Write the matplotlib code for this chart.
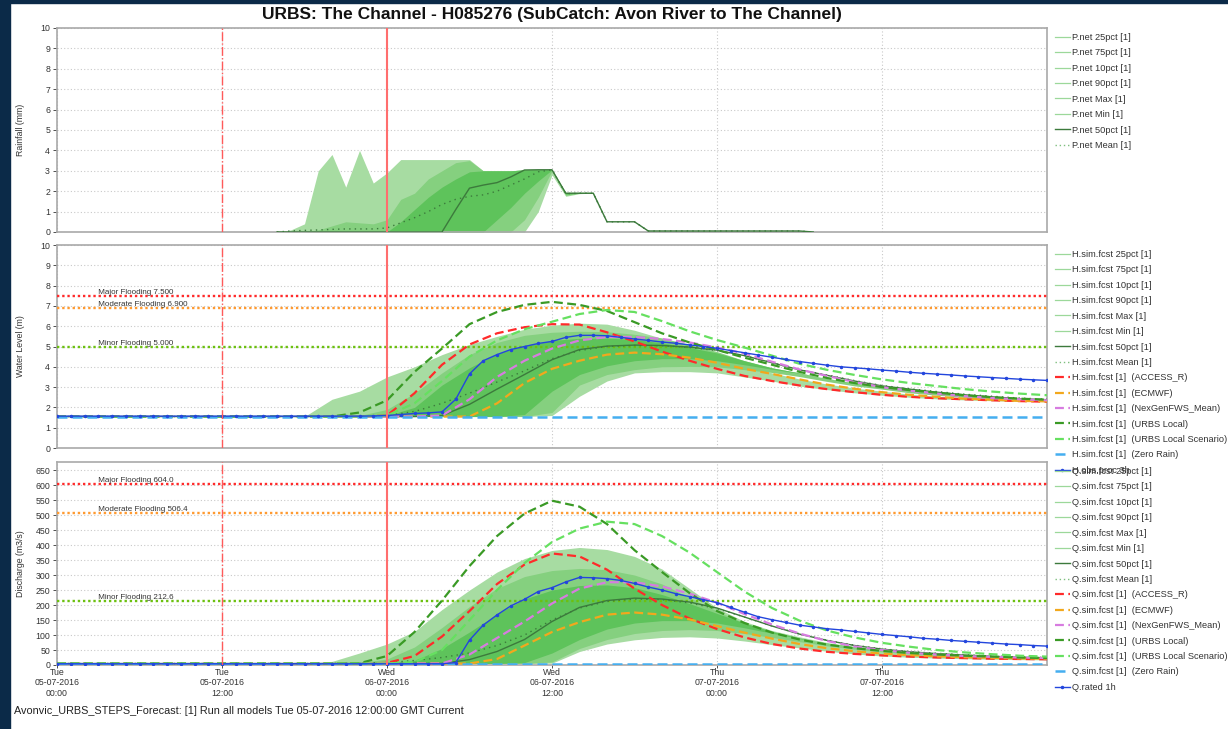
import matplotlib.pyplot as plt
from matplotlib.lines import Line2D
from matplotlib.patches import Rectangle

plt.rcParams['font.family'] = ['Liberation Sans', 'DejaVu Sans']

# ---------------- data ----------------
TITLE = 'URBS: The Channel - H085276 (SubCatch: Avon River to The Channel)'
FOOTER = 'Avonvic_URBS_STEPS_Forecast: [1] Run all models Tue 05-07-2016 12:00:00 GMT Current'

TICK_H = [0, 12, 24, 36, 48, 60]
TICK_LABELS = ['Tue\n05-07-2016\n00:00', 'Tue\n05-07-2016\n12:00',
               'Wed\n06-07-2016\n00:00', 'Wed\n06-07-2016\n12:00',
               'Thu\n07-07-2016\n00:00', 'Thu\n07-07-2016\n12:00']

# rainfall, hours since Tue 00:00
RH = [16, 17, 18, 19, 20, 21, 22, 23, 24, 25, 26, 27, 28, 29, 30, 31, 32, 33, 34, 35,
      36, 37, 38, 39, 40, 41, 42, 43, 44, 54, 55]
P_MAX = [0, 0.1, 0.4, 3.0, 3.8, 2.2, 4.0, 2.4, 2.9, 3.55, 3.55, 3.55, 3.55, 3.55, 3.55, 3.0,
         3.0, 3.0, 3.05, 3.05, 3.05, 1.95, 1.95, 1.95, 0.5, 0.5, 0.5, 0.06, 0.06, 0.06, 0]
P_P90 = [0, 0, 0, 0.1, 0.3, 0.5, 0.45, 0.4, 0.6, 1.6, 1.9, 2.6, 3.0, 3.4, 3.5, 3.0,
         3.0, 3.0, 3.05, 3.05, 3.05, 1.92, 1.92, 1.92, 0.5, 0.5, 0.5, 0.06, 0.06, 0.06, 0]
P_P75 = [0, 0, 0, 0, 0, 0, 0, 0, 0, 0.5, 1.1, 1.7, 2.2, 2.6, 2.95, 3.0,
         3.0, 3.0, 3.05, 3.05, 3.05, 1.9, 1.9, 1.9, 0.5, 0.5, 0.5, 0.05, 0.05, 0.05, 0]
P_P50 = [0, 0, 0, 0, 0, 0, 0, 0, 0, 0, 0, 0, 0, 1.1, 2.15, 2.3,
         2.42, 2.7, 3.04, 3.05, 3.05, 1.9, 1.9, 1.9, 0.5, 0.5, 0.5, 0.05, 0.05, 0.05, 0]
P_MEAN = [0, 0.05, 0.08, 0.1, 0.13, 0.15, 0.15, 0.15, 0.2, 0.45, 0.7, 1.0, 1.35, 1.6, 1.75, 1.82,
          2.0, 2.3, 2.6, 2.95, 3.05, 1.88, 1.9, 1.9, 0.5, 0.5, 0.5, 0.05, 0.05, 0.05, 0]
P_P25 = [0, 0, 0, 0, 0, 0, 0, 0, 0, 0, 0, 0, 0, 0, 0, 0,
         0.6, 1.2, 1.9, 2.5, 3.05, 1.85, 1.9, 1.9, 0.5, 0.5, 0.5, 0.05, 0.05, 0.05, 0]
P_P10 = [0, 0, 0, 0, 0, 0, 0, 0, 0, 0, 0, 0, 0, 0, 0, 0,
         0, 0, 0.6, 1.7, 3.0, 1.8, 1.9, 1.9, 0.5, 0.5, 0.5, 0.05, 0.05, 0.05, 0]
P_MIN = [0, 0, 0, 0, 0, 0, 0, 0, 0, 0, 0, 0, 0, 0, 0, 0,
         0, 0, 0, 1.0, 2.8, 1.75, 1.88, 1.9, 0.5, 0.5, 0.5, 0.05, 0.05, 0.05, 0]

# forecast series, 2-hourly
G = [0, 18, 20, 22, 24, 26, 28, 30, 32, 34, 36, 38, 40, 42, 44, 46, 48, 50, 52, 54,
     56, 58, 60, 62, 64, 66, 68, 70, 72]

H_MAX = [1.55, 1.55, 2.4, 2.8, 3.5, 4.0, 4.6, 5.1, 5.5, 5.85, 6.05, 6.15, 6.1, 5.8, 5.4,
         4.95, 4.5, 4.05, 3.7, 3.4, 3.15, 2.95, 2.8, 2.65, 2.55, 2.5, 2.45, 2.4, 2.38]
H_P90 = [1.55, 1.55, 1.55, 1.6, 1.9, 2.7, 3.7, 4.6, 5.2, 5.55, 5.7, 5.75, 5.73, 5.6, 5.42,
         5.1, 4.75, 4.3, 3.95, 3.7, 3.42, 3.2, 3.0, 2.85, 2.7, 2.58, 2.5, 2.4, 2.35]
H_P75 = [1.55, 1.55, 1.55, 1.55, 1.6, 2.0, 3.1, 3.95, 4.65, 5.05, 5.3, 5.4, 5.41, 5.35, 5.18,
         4.95, 4.68, 4.3, 3.95, 3.7, 3.42, 3.18, 2.98, 2.82, 2.68, 2.58, 2.46, 2.4, 2.35]
H_P50 = [1.55, 1.55, 1.55, 1.55, 1.55, 1.55, 1.6, 2.15, 2.9, 3.62, 4.35, 4.85, 5.02, 5.07, 5.05,
         4.97, 4.82, 4.55, 4.2, 3.85, 3.58, 3.3, 3.06, 2.9, 2.75, 2.62, 2.52, 2.43, 2.38]
H_MEAN = [1.55, 1.55, 1.55, 1.55, 1.6, 1.8, 2.2, 2.7, 3.25, 3.8, 4.4, 4.8, 5.0, 5.05, 5.04,
          4.95, 4.8, 4.55, 4.2, 3.85, 3.6, 3.32, 3.08, 2.92, 2.78, 2.65, 2.55, 2.46, 2.4]
H_P25 = [1.55, 1.55, 1.55, 1.55, 1.55, 1.55, 1.55, 1.55, 1.55, 1.65, 2.8, 3.62, 4.05, 4.3, 4.4,
         4.4, 4.3, 4.1, 3.88, 3.68, 3.43, 3.2, 2.98, 2.82, 2.68, 2.55, 2.46, 2.4, 2.35]
H_P10 = [1.55, 1.55, 1.55, 1.55, 1.55, 1.55, 1.55, 1.55, 1.55, 1.55, 1.75, 3.1, 3.62, 3.86, 4.0,
         4.02, 4.0, 3.86, 3.72, 3.52, 3.28, 3.06, 2.9, 2.72, 2.6, 2.5, 2.4, 2.35, 2.3]
H_MIN = [1.55, 1.55, 1.55, 1.55, 1.55, 1.55, 1.55, 1.55, 1.55, 1.55, 1.6, 2.55, 3.3, 3.7, 3.76,
         3.76, 3.7, 3.5, 3.3, 3.05, 2.88, 2.72, 2.6, 2.5, 2.42, 2.37, 2.33, 2.3, 2.28]
H_ACCESS = [1.55, 1.55, 1.55, 1.55, 1.6, 2.7, 4.1, 5.1, 5.65, 5.95, 6.1, 6.08, 5.7, 5.25, 4.75,
            4.3, 3.9, 3.55, 3.3, 3.08, 2.9, 2.75, 2.62, 2.52, 2.45, 2.4, 2.35, 2.31, 2.28]
H_ECMWF = [1.55, 1.55, 1.55, 1.55, 1.55, 1.55, 1.55, 1.55, 2.2, 3.2, 3.9, 4.3, 4.6, 4.7, 4.62,
           4.45, 4.2, 3.9, 3.65, 3.38, 3.12, 2.92, 2.75, 2.62, 2.52, 2.43, 2.38, 2.32, 2.3]
H_NEXGEN = [1.55, 1.55, 1.55, 1.55, 1.55, 1.55, 1.6, 2.4, 3.5, 4.3, 4.9, 5.3, 5.47, 5.47, 5.37,
            5.2, 4.95, 4.65, 4.25, 3.87, 3.55, 3.25, 3.0, 2.82, 2.68, 2.55, 2.46, 2.4, 2.35]
H_LOCAL = [1.55, 1.55, 1.55, 1.75, 2.35, 3.75, 4.9, 6.1, 6.7, 7.05, 7.2, 7.05, 6.75, 6.2, 5.65,
           5.2, 4.83, 4.45, 4.1, 3.75, 3.45, 3.2, 3.0, 2.85, 2.72, 2.6, 2.5, 2.43, 2.38]
H_SCEN = [1.55, 1.55, 1.55, 1.55, 1.6, 2.2, 3.3, 4.5, 5.3, 5.85, 6.22, 6.6, 6.8, 6.7, 6.25,
          5.75, 5.32, 4.95, 4.55, 4.15, 3.85, 3.6, 3.38, 3.2, 3.05, 2.9, 2.78, 2.68, 2.6]

Q_MAX = [5, 5, 12, 40, 70, 112, 185, 250, 310, 355, 382, 392, 385, 362, 320,
         255, 190, 145, 115, 94, 75, 62, 52, 44, 37, 32, 28, 26, 24]
Q_P90 = [5, 5, 5, 8, 20, 60, 125, 195, 255, 295, 315, 322, 318, 300, 270,
         225, 180, 140, 112, 90, 72, 60, 50, 42, 36, 31, 28, 25, 23]
Q_P75 = [5, 5, 5, 5, 5, 15, 55, 110, 170, 220, 250, 265, 267, 258, 235,
         205, 172, 140, 112, 90, 72, 59, 49, 41, 35, 31, 27, 25, 23]
Q_P50 = [5, 5, 5, 5, 5, 5, 5, 18, 45, 85, 145, 192, 215, 223, 220,
         210, 190, 160, 130, 103, 82, 65, 53, 44, 38, 33, 29, 26, 24]
Q_MEAN = [5, 5, 5, 6, 8, 15, 25, 40, 65, 100, 150, 190, 212, 220, 218,
          207, 188, 160, 130, 104, 83, 66, 54, 45, 39, 34, 30, 27, 25]
Q_P25 = [5, 5, 5, 5, 5, 5, 5, 5, 5, 8, 40, 85, 120, 140, 148,
         148, 140, 124, 106, 88, 73, 60, 49, 41, 35, 30, 27, 25, 23]
Q_P10 = [5, 5, 5, 5, 5, 5, 5, 5, 5, 5, 10, 55, 85, 105, 115,
         118, 115, 105, 92, 78, 64, 53, 44, 37, 32, 28, 25, 23, 21]
Q_MIN = [5, 5, 5, 5, 5, 5, 5, 5, 5, 5, 6, 45, 70, 84, 92,
         94, 90, 80, 68, 57, 46, 37, 30, 26, 23, 21, 19, 18, 17]
Q_ACCESS = [5, 5, 5, 5, 7, 30, 95, 180, 270, 335, 372, 362, 318, 255, 200,
            155, 120, 92, 70, 55, 44, 37, 32, 28, 25, 23, 21, 20, 19]
Q_ECMWF = [5, 5, 5, 5, 5, 5, 5, 5, 20, 65, 110, 143, 168, 175, 168,
           152, 130, 108, 88, 70, 56, 46, 38, 33, 29, 26, 24, 22, 21]
Q_NEXGEN = [5, 5, 5, 5, 5, 5, 5, 35, 90, 145, 205, 255, 276, 276, 262,
            238, 208, 170, 135, 105, 80, 62, 50, 41, 35, 30, 27, 25, 23]
Q_LOCAL = [5, 5, 5, 6, 30, 110, 215, 330, 430, 505, 548, 528, 470, 383, 310,
           240, 180, 140, 108, 85, 68, 56, 47, 40, 35, 31, 28, 25, 23]
Q_SCEN = [5, 5, 5, 5, 5, 10, 50, 150, 250, 340, 410, 455, 478, 470, 430,
          375, 310, 245, 190, 148, 115, 92, 74, 61, 50, 42, 36, 31, 28]

ZR_H = [0, 72]
H_ZERO = [1.55, 1.55]
Q_ZERO = [3, 3]

# observed / rated, hourly
OBS_H = list(range(73))
H_OBS = [1.57, 1.57, 1.57, 1.57, 1.57, 1.57, 1.57, 1.57, 1.57, 1.57, 1.57, 1.57, 1.57, 1.57,
         1.57, 1.57, 1.57, 1.57, 1.57, 1.57, 1.57, 1.57, 1.57, 1.58, 1.6, 1.65, 1.7, 1.73, 1.78,
         2.4, 3.65, 4.3, 4.6, 4.85, 5.0, 5.15, 5.25, 5.45, 5.55, 5.55, 5.53, 5.45, 5.37, 5.3,
         5.22, 5.16, 5.08, 5.0, 4.91, 4.8, 4.69, 4.58, 4.47, 4.36, 4.26, 4.17, 4.08, 4.0, 3.95,
         3.9, 3.84, 3.79, 3.73, 3.68, 3.64, 3.6, 3.55, 3.51, 3.47, 3.43, 3.39, 3.36, 3.33]
Q_OBS = [4, 4, 4, 4, 4, 4, 4, 4, 4, 4, 4, 4, 4, 4, 4, 4, 4, 4, 4, 4, 4, 4, 4, 4, 4, 4, 4, 4, 4,
         8, 83, 133, 167, 197, 219, 245, 258, 277, 292, 291, 288, 282, 272, 260, 250, 238, 228,
         218, 208, 192, 176, 161, 151, 142, 133, 127, 121, 117, 112, 107, 102, 98, 94, 89, 86,
         82, 79, 76, 73, 70, 68, 65, 63]

FLOOD_NAMES = ['Major Flooding', 'Moderate Flooding', 'Minor Flooding']
H_LEVELS = [7.5, 6.9, 5.0]
Q_LEVELS = [604.0, 506.4, 212.6]

P_NAMES = ['P.net 25pct [1]', 'P.net 75pct [1]', 'P.net 10pct [1]', 'P.net 90pct [1]',
           'P.net Max [1]', 'P.net Min [1]', 'P.net 50pct [1]', 'P.net Mean [1]']
MODELS = ['ACCESS_R', 'ECMWF', 'NexGenFWS_Mean', 'URBS Local', 'URBS Local Scenario', 'Zero Rain']

# ---------------- style ----------------
NAVY = '#0b2a48'
C_LIGHT = '#a7dca2'
C_MED = '#85d07f'
C_DARK = '#5ec35b'
C_BANDLINE = '#9cd89a'
C_P50 = '#3c7a3c'
MODEL_COLORS = ['#ff2a2a', '#f2a81d', '#d77ce0', '#3a9a25', '#66e060', '#45aef0']
FLOOD_COLORS = ['#ff2a2a', '#ff9a30', '#6cc010']
OBS_COLOR = '#2346dd'
FS = 6.3
LFS = 6.7

fig = plt.figure(figsize=(12.28, 7.29), dpi=100)
fig.add_artist(Rectangle((0, 0), 10 / 1228, 1, transform=fig.transFigure,
                         color=NAVY, zorder=10))
fig.add_artist(Rectangle((0, 1 - 3 / 729), 1, 3 / 729, transform=fig.transFigure,
                         color=NAVY, zorder=10))

L, W = 57 / 1228, 990 / 1228
ax1 = fig.add_axes([L, 1 - 232 / 729, W, 204 / 729])
ax2 = fig.add_axes([L, 1 - 448 / 729, W, 203 / 729])
ax3 = fig.add_axes([L, 1 - 665 / 729, W, 203 / 729])


def style(ax, ylab):
    ax.set_xlim(0, 72)
    ax.set_xticks(TICK_H)
    ax.grid(True, color='#c9c9c9', linestyle=(0, (1, 2)), linewidth=0.8, zorder=0)
    ax.set_axisbelow(True)
    for s in ax.spines.values():
        s.set_color('#a9a9a9')
        s.set_linewidth(1.2)
    ax.tick_params(labelsize=FS, colors='#333333', length=3, width=0.6, pad=2)
    ax.axvline(12, color='#ff5a5a', lw=1.0, ls='-.', zorder=6)
    ax.axvline(24, color='#ff6e6e', lw=1.5, zorder=6)
    ax.set_ylabel(ylab, fontsize=FS, color='#333333')
    ax.yaxis.set_label_coords(-0.032, 0.5)


def bands(ax, x, lo_hi):
    for (lo, hi), c in zip(lo_hi, [C_LIGHT, C_MED, C_DARK]):
        ax.fill_between(x, lo, hi, color=c, lw=0, zorder=2)


def legend(handles, labels, ytop):
    fig.legend(handles, labels, loc='upper left', bbox_to_anchor=(1055 / 1228, 1 - ytop / 729),
               frameon=False, fontsize=LFS, handlelength=1.6, handletextpad=0.25,
               labelspacing=0.69, borderpad=0, borderaxespad=0, labelcolor='#333333')


def band_handles():
    hs = [Line2D([], [], color=C_BANDLINE, lw=0.9) for _ in range(6)]
    hs.append(Line2D([], [], color=C_P50, lw=1.0))
    hs.append(Line2D([], [], color='#7fbf7f', lw=1.0, ls=(0, (1, 2))))
    return hs


# ---- rainfall ----
style(ax1, 'Rainfall (mm)')
bands(ax1, RH, [(P_MIN, P_MAX), (P_P10, P_P90), (P_P25, P_P75)])
ax1.plot(RH, P_P50, color=C_P50, lw=1.0, zorder=3)
ax1.plot(RH, P_MEAN, color=C_P50, lw=1.0, ls=(0, (1, 3)), zorder=3)
ax1.set_ylim(0, 10)
ax1.set_yticks(range(11))
ax1.tick_params(axis='x', labelbottom=False, length=0)
legend(band_handles(), P_NAMES, 33)


def hydro(ax, lev_vals, lev_fmt, bnds, p50, mean, models, zero, obs, prefix, ylab):
    style(ax, ylab)
    for name, lv, c in zip(FLOOD_NAMES, lev_vals, FLOOD_COLORS):
        ax.axhline(lv, color=c, lw=1.7, ls=(0, (1, 1.2)), zorder=3)
        ax.text(2.85, lv, ' ' + name + ' ' + lev_fmt.format(lv), fontsize=FS - 0.5,
                color='#333333', va='bottom', ha='left', zorder=7)
    bands(ax, G, bnds)
    ax.plot(G, p50, color=C_P50, lw=1.0, zorder=3)
    ax.plot(G, mean, color=C_P50, lw=1.0, ls=(0, (1, 3)), zorder=3)
    hs = band_handles()
    for vals, c in zip(models, MODEL_COLORS[:5]):
        h, = ax.plot(G, vals, color=c, lw=1.6, ls=(0, (4, 2)), zorder=4)
        hs.append(h)
    h, = ax.plot(ZR_H, zero, color=MODEL_COLORS[5], lw=1.8, ls=(0, (4, 2)), zorder=4)
    hs.append(h)
    ho, = ax.plot(OBS_H, obs, color=OBS_COLOR, lw=1.0, marker='.', ms=3.0, zorder=5)
    labels = [prefix + n.split('P.net ')[1] for n in P_NAMES]
    labels += [prefix + '[1]  (' + m + ')' for m in MODELS]
    return hs, labels, ho


hs, labels, ho = hydro(ax2, H_LEVELS, '{:.3f}',
                       [(H_MIN, H_MAX), (H_P10, H_P90), (H_P25, H_P75)],
                       H_P50, H_MEAN,
                       [H_ACCESS, H_ECMWF, H_NEXGEN, H_LOCAL, H_SCEN], H_ZERO, H_OBS,
                       'H.sim.fcst ', 'Water Level (m)')
ax2.set_ylim(0, 10)
ax2.set_yticks(range(11))
ax2.tick_params(axis='x', labelbottom=False, length=0)
legend(hs + [ho], labels + ['H.obs.proc 3h'], 250)

hs, labels, ho = hydro(ax3, Q_LEVELS, '{:.1f}',
                       [(Q_MIN, Q_MAX), (Q_P10, Q_P90), (Q_P25, Q_P75)],
                       Q_P50, Q_MEAN,
                       [Q_ACCESS, Q_ECMWF, Q_NEXGEN, Q_LOCAL, Q_SCEN], Q_ZERO, Q_OBS,
                       'Q.sim.fcst ', 'Discharge (m3/s)')
ax3.set_ylim(0, 677)
ax3.set_yticks(range(0, 651, 50))
ax3.set_xticklabels(TICK_LABELS, fontsize=FS, linespacing=1.2)
ax3.tick_params(axis='x', pad=0, length=2)
legend(hs + [ho], labels + ['Q.rated 1h'], 467)

fig.text(552 / 1228, 1 - 15 / 729, TITLE, ha='center', va='center',
         fontsize=12.5, fontweight='bold', color='#111111')
fig.text(14 / 1228, 1 - 711 / 729, FOOTER, ha='left', va='center',
         fontsize=7.8, color='#222222')

fig.savefig('out.png', dpi=100, facecolor='white')
